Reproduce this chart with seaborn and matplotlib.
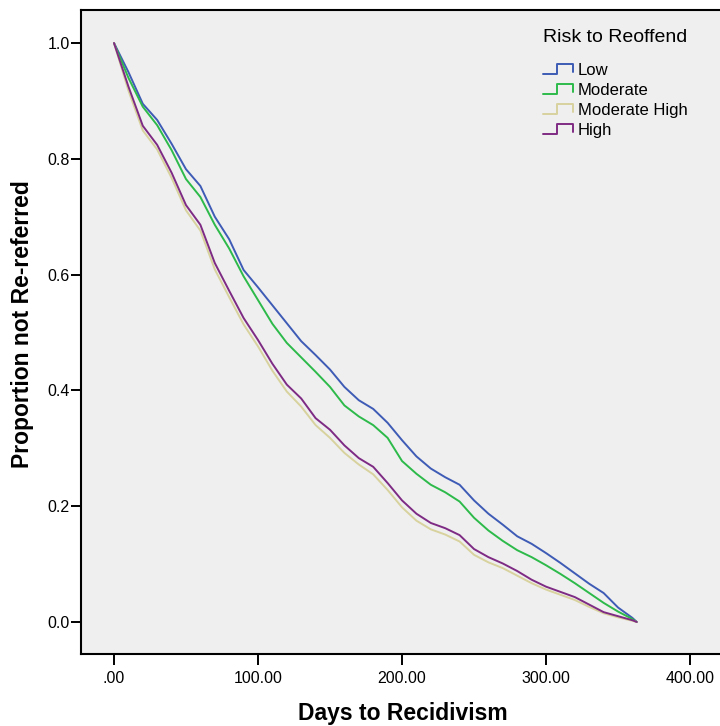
import numpy as np
import pandas as pd
import matplotlib
matplotlib.use("Agg")
import matplotlib.pyplot as plt
import seaborn as sns
from matplotlib.lines import Line2D
from matplotlib.legend_handler import HandlerBase

# Survival estimates (every 10 days, last point = day 363)
days = [0, 10, 20, 30, 40, 50, 60, 70, 80, 90, 100, 110, 120, 130, 140, 150, 160, 170, 180,
        190, 200, 210, 220, 230, 240, 250, 260, 270, 280, 290, 300, 310, 320, 330, 340, 350, 360, 363]

surv_low = [1.000, 0.950, 0.895, 0.867, 0.826, 0.782, 0.753, 0.700, 0.661, 0.608, 0.578, 0.547,
            0.516, 0.485, 0.461, 0.436, 0.406, 0.383, 0.368, 0.344, 0.314, 0.286, 0.265, 0.250,
            0.237, 0.210, 0.187, 0.168, 0.148, 0.135, 0.119, 0.102, 0.084, 0.066, 0.050, 0.025,
            0.007, 0.000]
surv_moderate = [1.000, 0.940, 0.890, 0.858, 0.815, 0.765, 0.734, 0.686, 0.645, 0.597, 0.556, 0.515,
                 0.482, 0.457, 0.432, 0.406, 0.374, 0.355, 0.340, 0.318, 0.278, 0.256, 0.237, 0.224,
                 0.208, 0.180, 0.158, 0.140, 0.124, 0.112, 0.098, 0.083, 0.067, 0.050, 0.033, 0.018,
                 0.005, 0.000]
surv_mod_high = [1.000, 0.918, 0.849, 0.816, 0.767, 0.711, 0.676, 0.609, 0.561, 0.514, 0.476, 0.434,
                 0.398, 0.372, 0.340, 0.318, 0.292, 0.272, 0.255, 0.228, 0.198, 0.175, 0.160, 0.151,
                 0.139, 0.116, 0.103, 0.093, 0.080, 0.067, 0.056, 0.047, 0.038, 0.026, 0.015, 0.008,
                 0.002, 0.000]
surv_high = [1.000, 0.925, 0.857, 0.824, 0.776, 0.720, 0.686, 0.620, 0.572, 0.525, 0.487, 0.446,
             0.410, 0.386, 0.352, 0.332, 0.305, 0.283, 0.268, 0.240, 0.210, 0.187, 0.171, 0.162,
             0.150, 0.126, 0.112, 0.101, 0.088, 0.073, 0.061, 0.052, 0.043, 0.030, 0.017, 0.010,
             0.003, 0.000]

groups = ["Low", "Moderate", "Moderate High", "High"]
x_ticks = [0, 100, 200, 300, 400]
x_tick_labels = [".00", "100.00", "200.00", "300.00", "400.00"]
y_ticks = [0.0, 0.2, 0.4, 0.6, 0.8, 1.0]

COLORS = {
    "Low": "#3E5BB5",
    "Moderate": "#2DBA4A",
    "Moderate High": "#D8D29E",
    "High": "#7E2B84",
}

sns.set_theme(style="white")
plt.rcParams["font.family"] = ["Liberation Sans", "DejaVu Sans"]
plt.rcParams.update({
    "text.color": "black",
    "axes.labelcolor": "black",
    "xtick.color": "black",
    "ytick.color": "black",
})


class StepHandler(HandlerBase):
    # legend glyph shaped like a small survival step
    def create_artists(self, legend, orig_handle, xdescent, ydescent, width, height, fontsize, trans):
        x0, y0 = -xdescent, -ydescent
        lo, hi = y0 + 0.05 * height, y0 + 0.95 * height
        xs = [x0, x0 + 0.48 * width, x0 + 0.48 * width, x0 + width, x0 + width]
        ys = [lo, lo, hi, hi, lo + 0.25 * (hi - lo)]
        line = Line2D(xs, ys, color=orig_handle.get_color(), lw=1.4, transform=trans)
        return [line]


df = pd.concat([
    pd.DataFrame({"Days": days, "Survival": vals, "Risk": name})
    for name, vals in zip(groups, [surv_low, surv_moderate, surv_mod_high, surv_high])
], ignore_index=True)

fig = plt.figure(figsize=(7.2, 7.26), dpi=100)
ax = fig.add_axes([81 / 720, 72 / 726, 1 - 81 / 720, 644 / 726])
ax.set_facecolor("#EFEFEF")

sns.lineplot(data=df, x="Days", y="Survival", hue="Risk", hue_order=groups,
             palette=COLORS, linewidth=1.4, estimator=None, sort=False,
             legend=False, ax=ax)

ax.set_xlim(-22.9, 420.8)
ax.set_ylim(-0.0553, 1.057)
ax.set_xticks(x_ticks)
ax.set_xticklabels(x_tick_labels)
ax.set_yticks(y_ticks)
ax.set_yticklabels([f"{v:.1f}" for v in y_ticks])
ax.tick_params(axis="x", bottom=True, direction="out", length=8, width=1.4, pad=4, labelsize=11.5)
ax.tick_params(axis="y", left=True, direction="out", length=7.2, width=1.4, pad=1, labelsize=11.5)

for side in ["left", "bottom", "top"]:
    ax.spines[side].set_visible(True)
    ax.spines[side].set_color("black")
    ax.spines[side].set_linewidth(1.5)
ax.spines["right"].set_visible(False)

ax.set_xlabel("Days to Recidivism", fontsize=16.5, fontweight="bold")
ax.set_ylabel("Proportion not Re-referred", fontsize=16.5, fontweight="bold")
ax.xaxis.set_label_coords(0.504, -0.074)
ax.yaxis.set_label_coords(-0.0735, 0.512)

handles = [Line2D([], [], color=COLORS[g]) for g in groups]
leg = ax.legend(handles, groups, title="Risk to Reoffend", frameon=False,
                handler_map={Line2D: StepHandler()},
                loc="upper left", bbox_to_anchor=(535 / 720, 1 - 21 / 726),
                bbox_transform=fig.transFigure, borderpad=0,
                fontsize=12, title_fontsize=14, handlelength=1.75, handleheight=0.7,
                handletextpad=0.3, labelspacing=0.3, alignment="left")
leg._legend_box.sep = 12

fig.savefig("out.png", dpi=100, facecolor="white")
